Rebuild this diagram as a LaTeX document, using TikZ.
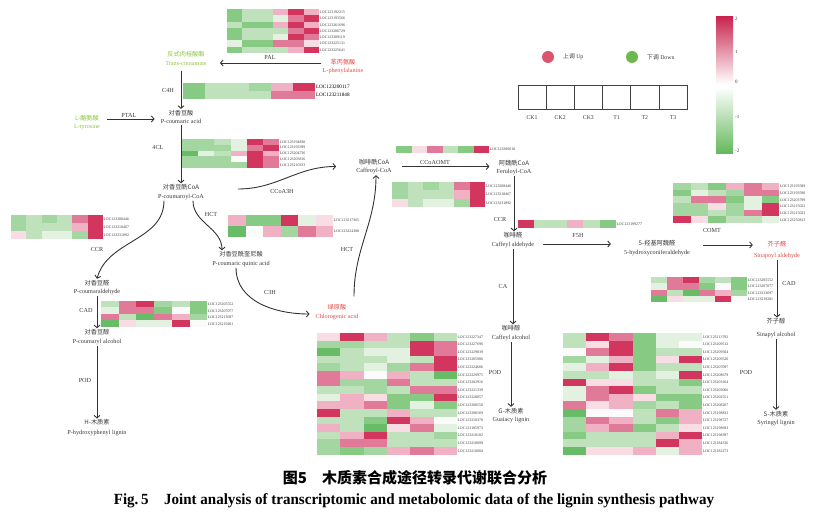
\documentclass[tikz,border=0pt]{standalone}
\usepackage{fontspec}
\setmainfont{Liberation Serif}
\newfontfamily\cjk{Noto Sans CJK SC}
\newfontfamily\capfont[FakeStretch=0.97]{Liberation Serif}
\usetikzlibrary{arrows.meta}

% heatmap colours
\definecolor{hR}{HTML}{D2365E}
\definecolor{hP}{HTML}{E07A98}
\definecolor{hL}{HTML}{EFB1C3}
\definecolor{hQ}{HTML}{F8DDE5}
\definecolor{hW}{HTML}{FAFBFA}
\definecolor{hV}{HTML}{E2F1E0}
\definecolor{hE}{HTML}{BFE2BC}
\definecolor{hF}{HTML}{A4D6A1}
\definecolor{hG}{HTML}{87CA83}
\definecolor{hH}{HTML}{68BC68}
% text and legend colours
\definecolor{txt}{HTML}{3A3A3A}
\definecolor{grn}{HTML}{8CC63F}
\definecolor{rtx}{HTML}{E04A45}
\definecolor{upc}{HTML}{DC5470}
\definecolor{dnc}{HTML}{6CB84F}
\definecolor{cbR}{HTML}{C8264F}
\definecolor{cbG}{HTML}{62B85A}

\newcommand{\zh}[1]{{\cjk #1}}

% #1 label style, #2 name, #3 x, #4 y, #5 cell width, #6 cell height, #7 rows, #8 genes
\newcommand{\heatmap}[8]{%
  \foreach \hrow [count=\hi] in {#7}{%
    \foreach \hc [count=\hj] in \hrow
      \fill[fill=h\hc] ({#3+(\hj-1)*#5},{#4+(\hi-1)*#6}) rectangle ++(#5,#6);
  }
  \foreach \glab [count=\gi] in {#8}
    \node[#1, anchor=west] (#2\gi) at ({#3+6*#5},{#4+(\gi-0.5)*#6}) {\glab};
}

\tikzset{
  met/.style={align=center, text=txt, inner sep=1pt, font=\fontsize{6.2}{8.5}\selectfont},
  enz/.style={text=txt, inner sep=0pt, font=\fontsize{6.2}{7}\selectfont},
  gene/.style={text=txt, inner sep=0.6pt, font=\fontsize{3.9}{4.5}\selectfont},
  genebig/.style={text=black, inner sep=0.8pt, font=\fontsize{5.2}{6}\selectfont},
  arr/.style={draw=black!80, line width=0.9pt, -{Straight Barb[length=2.6pt,width=6pt]}},
  dot/.style={circle, inner sep=0pt, minimum size=12pt},
  leg/.style={text=txt, inner sep=0pt, font=\fontsize{5.8}{7}\selectfont},
}

\begin{document}
\begin{tikzpicture}[x=1pt,y=-1pt]
\useasboundingbox (0,0) rectangle (825,521);

% legend
\node[dot, fill=upc] (up) at (548,57) {};
\node[leg, anchor=west] (uplab) at (563,57) {\zh{上调}\ Up};
\node[dot, fill=dnc] (down) at (632,57) {};
\node[leg, anchor=west] (downlab) at (647,57) {\zh{下调}\ Down};
\foreach \k in {0,...,5}
  \draw[black!75, line width=0.7pt] ({518+\k*28.2},85) rectangle ++(28.2,24);
\foreach \s [count=\k] in {CK1,CK2,CK3,T1,T2,T3}
  \node[leg] (smp\k) at ({532+(\k-1)*28.2},118) {\s};

% colour bar
\shade[top color=cbR, bottom color=white] (716,17) rectangle (733,84);
\shade[top color=white, bottom color=cbG] (716,87) rectangle (733,154);
\foreach \v/\yy [count=\k] in {2/19,1/52,0/82,-1/117,-2/151}
  \node[leg, anchor=west, font=\fontsize{5}{6}\selectfont] (cb\k) at (735,\yy) {\v};

% metabolites
\node[met, text=grn] (cinn) at (186,58.5) {\zh{反式肉桂酸酯}\\Trans-cinnamate};
\node[met, text=rtx] (phe) at (343,66.5) {\zh{苯丙氨酸}\\L-phenylalanine};
\node[met] (pca) at (181,117) {\zh{对香豆酸}\\P-coumaric acid};
\node[met, text=grn] (tyr) at (87,122.5) {\zh{L-酪氨酸}\\L-tyrosine};
\node[met] (pcoa) at (181,192) {\zh{对香豆酰CoA}\\P-coumaroyl-CoA};
\node[met] (pcald) at (97,287.5) {\zh{对香豆醛}\\P-coumaraldehyde};
\node[met] (pcalc) at (97,337) {\zh{对香豆醇}\\P-coumaryl alcohol};
\node[met] (hlig) at (97,428) {\zh{H-木质素}\\[1.5pt]P-hydroxyphenyl lignin};
\node[met] (pcq) at (241,259) {\zh{对香豆酰奎尼酸}\\P-coumaric quinic acid};
\node[met, text=rtx] (chl) at (337,312) {\zh{绿原酸}\\Chlorogenic acid};
\node[met] (caf) at (374,166.5) {\zh{咖啡酰CoA}\\Caffeoyl-CoA};
\node[met] (fer) at (514,167.5) {\zh{阿魏酰CoA}\\Feruloyl-CoA};
\node[met] (cald) at (513,240) {\zh{咖啡醛}\\Caffeyl aldehyde};
\node[met] (calc) at (511,333) {\zh{咖啡醇}\\Caffeyl alcohol};
\node[met] (glig) at (511,415.5) {\zh{G-木质素}\\Guaiacy lignin};
\node[met] (hcald) at (657,248) {\zh{5-羟基阿魏醛}\\5-hydroxyconiferaldehyde};
\node[met, text=rtx] (sald) at (777,250.5) {\zh{芥子醛}\\[2.5pt]Sinapoyl aldehyde};
\node[met] (salc) at (776,328.5) {\zh{芥子醇}\\[4.5pt]Sinapyl alcohol};
\node[met] (slig) at (776,418.5) {\zh{S-木质素}\\Syringyl lignin};

% reactions
\draw[arr, shorten >=12pt] ([yshift=3.5pt]phe.west) -- ([yshift=3.5pt]phe.west -| cinn.east);
\draw[arr, shorten <=4pt] (cinn.south -| pca.north) -- (pca.north);
\draw[arr, shorten <=6pt, shorten >=5pt] ([yshift=-2pt]tyr.east |- pca.west) -- ([yshift=-2pt]pca.west);
\draw[arr] (pca.south) -- (pca.south |- pcoa.north);
\draw[arr] ([xshift=-17pt]pcoa.south) to[out=-90, in=75] (pcald.north);
\draw[arr] ([xshift=12pt]pcoa.south) to[out=-90, in=90] ([xshift=-19pt]pcq.north);
\draw[arr] ([xshift=33pt,yshift=3pt]pcoa.east) to[out=0, in=180] ([xshift=-19pt]caf.west);
\draw[arr] ([xshift=-5pt]pcq.south) to[out=-90, in=180] ([xshift=-5pt,yshift=-2pt]chl.west);
\draw[arr] ([xshift=17pt,yshift=7pt]chl.north) to[out=90, in=-90] ([xshift=2pt]caf.south);
\draw[arr, shorten <=9pt, shorten >=6pt] (caf.east) -- (caf.east -| fer.west);
\draw[arr] (fer.south) -- (fer.south |- cald.north);
\draw[arr, shorten <=8pt, shorten >=12pt] ([yshift=-4pt]cald.east) -- ([yshift=-4pt]cald.east -| hcald.west);
\draw[arr, shorten <=12pt] ([yshift=3pt]hcald.east) -- ([yshift=3pt]hcald.east -| sald.west);
\draw[arr] (sald.south) -- (sald.south |- salc.north);
\draw[arr] (salc.south) -- (salc.south |- slig.north);
\draw[arr] (cald.south) -- (cald.south |- calc.north);
\draw[arr] (calc.south) -- (calc.south |- glig.north);
\draw[arr] (pcald.south) -- (pcald.south |- pcalc.north);
\draw[arr] (pcalc.south) -- (pcalc.south |- hlig.north);

% enzymes
\node[enz] (pal) at (270,57) {PAL};
\node[enz] (c4h) at (168,90) {C4H};
\node[enz] (ptal) at (129,115) {PTAL};
\node[enz] (fourcl) at (158,147) {4CL};
\node[enz] (ccrA) at (97,249) {CCR};
\node[enz] (hctA) at (211,214) {HCT};
\node[enz] (ccoa3h) at (282,191) {CCoA3H};
\node[enz] (c3h) at (270,292) {C3H};
\node[enz] (hctB) at (347,249) {HCT};
\node[enz] (ccoaomt) at (435,162) {CCoAOMT};
\node[enz] (ccrB) at (500,219) {CCR};
\node[enz] (f5h) at (578,236) {F5H};
\node[enz] (comt) at (712,230) {COMT};
\node[enz] (ca) at (503,286) {CA};
\node[enz] (cadA) at (86,310) {CAD};
\node[enz] (cadB) at (789,283) {CAD};
\node[enz] (podA) at (85,380) {POD};
\node[enz] (podB) at (495,372) {POD};
\node[enz] (podC) at (746,372) {POD};

% expression heatmaps
\heatmap{gene}{palg}{227}{9}{15.3}{6.3}{{G,E,E,L,R,L},{G,E,E,V,P,R},{E,G,G,L,R,L},{G,E,E,E,P,R},{G,E,E,V,R,P},{V,G,G,P,P,Q},{G,E,E,E,L,R}}{LOC123192215,LOC123193566,LOC123261696,LOC123206729,LOC123209119,LOC123225131,LOC123225641}
\heatmap{genebig}{c4hg}{183}{83}{22}{8}{{G,E,E,F,L,R},{G,E,E,E,P,P}}{LOC123200117,LOC123211848}
\heatmap{gene}{clg}{182}{139}{16.2}{5.8}{{F,F,E,V,R,P},{F,F,F,V,P,R},{H,V,E,L,R,L},{F,F,F,W,R,P},{F,F,F,F,R,P}}{LOC123194830,LOC123193399,LOC123204736,LOC123203816,LOC123210333}
\heatmap{gene}{ccrAg}{11}{215}{15.3}{8}{{F,E,F,E,P,R},{F,E,E,E,L,R},{Q,E,V,V,F,R}}{LOC123208446,LOC123218467,LOC123231892}
\heatmap{gene}{hctg}{228}{215}{17.5}{11}{{L,G,G,R,V,Q},{H,W,L,F,P,L}}{LOC123217365,LOC123224388}
\heatmap{gene}{ccoag}{396}{146}{15.5}{7}{{G,Q,P,E,G,R}}{LOC123200018}
\heatmap{gene}{ccrBg}{392}{182}{15.5}{8.3}{{F,E,F,E,P,R},{F,E,E,E,L,R},{Q,E,V,V,F,R}}{LOC123208446,LOC123218467,LOC123231892}
\heatmap{gene}{f5hg}{518}{220}{16.3}{8}{{R,E,E,L,E,G}}{LOC123199277}
\heatmap{gene}{comtg}{673}{183}{17.7}{6.7}{{F,E,G,L,P,L},{G,V,E,F,P,P},{E,P,P,G,V,G},{F,F,Q,F,V,R},{F,F,E,F,P,R},{R,Q,G,E,E,V}}{LOC123193589,LOC123193590,LOC123203799,LOC123215022,LOC123215023,LOC123250813}
\heatmap{gene}{cadAg}{101}{301}{17.7}{6.5}{{E,P,R,F,E,G},{V,P,P,G,W,G},{P,E,H,P,L,F},{H,Q,V,V,R,W}}{LOC123205552,LOC123207077,LOC123213697,LOC123219281}
\heatmap{gene}{cadBg}{651}{277}{16}{6.3}{{E,P,R,F,E,G},{V,P,P,G,W,G},{P,E,H,P,L,F},{H,Q,V,V,R,W}}{LOC123205552,LOC123207077,LOC123213697,LOC123219281}
\heatmap{gene}{podBg}{317}{333}{23.3}{7.6}{{Q,R,L,E,G,E},{F,F,E,E,R,P},{H,E,V,V,R,P},{E,E,E,V,E,R},{F,E,V,F,P,R},{P,L,W,L,E,H},{P,F,F,P,E,E},{E,E,F,E,P,P},{V,L,Q,G,G,R},{L,L,P,G,V,G},{R,E,E,L,E,E},{E,E,G,R,L,W},{L,E,H,Q,P,V},{E,L,R,E,E,F},{F,P,P,E,E,E},{F,G,F,L,P,L}}{LOC123227347,LOC123227696,LOC123229839,LOC123205906,LOC123224606,LOC123229975,LOC123202916,LOC123221339,LOC123228857,LOC123208550,LOC123208169,LOC123210378,LOC123185973,LOC123218182,LOC123218099,LOC123218004}
\heatmap{gene}{podCg}{563}{333}{23.2}{7.6}{{E,R,P,G,V,V},{E,Q,R,G,V,W},{W,P,R,G,E,E},{F,V,L,G,Q,R},{V,L,R,G,E,E},{E,E,V,E,V,R},{R,Q,Q,E,E,G},{V,P,R,G,E,E},{V,P,L,Q,G,G},{P,Q,L,F,E,G},{H,W,W,E,P,L},{F,P,L,E,G,L},{F,L,P,G,E,Q},{G,E,E,E,L,R},{E,E,E,E,R,L},{H,Q,Q,L,V,L}}{LOC123213792,LOC123209512,LOC123209504,LOC123209520,LOC123207097,LOC123208679,LOC123203164,LOC123203066,LOC123202551,LOC123208207,LOC123198833,LOC123198727,LOC123198693,LOC123198397,LOC123184336,LOC123182273}

% caption
\node[inner sep=0pt, font=\cjk\bfseries\fontsize{15}{16}\selectfont] (capzh) at (415,478) {图5\quad 木质素合成途径转录代谢联合分析};
\node[inner sep=0pt, font=\capfont\bfseries\fontsize{15.5}{18}\selectfont] (capen) at (414,501) {Fig.\,5\quad Joint analysis of transcriptomic and metabolomic data of the lignin synthesis pathway};
\end{tikzpicture}
\end{document}
